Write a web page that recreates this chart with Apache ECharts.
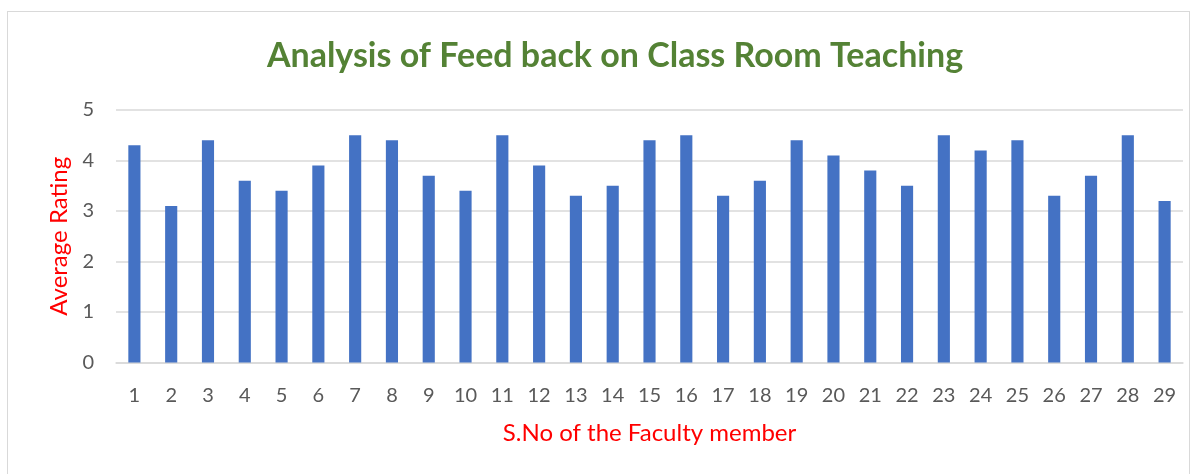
<!DOCTYPE html>
<html>
<head>
<meta charset="utf-8">
<script src="https://cdn.jsdelivr.net/npm/echarts@6/dist/echarts.min.js"></script>
<style>
  html, body { margin: 0; padding: 0; background: #fff; }
  #frame { position: absolute; left: 7px; top: 11px; width: 1183px; height: 470px; border: 1px solid #d9d9d9; box-sizing: border-box; }
  #chart { position: absolute; left: 0; top: 0; width: 1196px; height: 474px; }
</style>
</head>
<body>
<div id="frame"></div>
<div id="chart"></div>
<script>
// S.No of faculty members
const facultyNo = ['1','2','3','4','5','6','7','8','9','10','11','12','13','14','15','16','17','18','19','20','21','22','23','24','25','26','27','28','29']
// average rating per faculty member
const avgRating = [4.3, 3.1, 4.4, 3.6, 3.4, 3.9, 4.5, 4.4, 3.7, 3.4, 4.5, 3.9, 3.3, 3.5, 4.4, 4.5, 3.3, 3.6, 4.4, 4.1, 3.8, 3.5, 4.5, 4.2, 4.4, 3.3, 3.7, 4.5, 3.2]
const yTicks = [0, 1, 2, 3, 4, 5]

const chart = echarts.init(document.getElementById('chart'))
const font = 'Lato, "Open Sans", sans-serif'
chart.setOption({
  animation: false,
  title: {
    text: 'Analysis of Feed back on Class Room Teaching',
    left: 610, top: 34, textAlign: 'center',
    textStyle: { color: '#548235', fontSize: 34, fontWeight: 'bold', fontFamily: font }
  },
  grid: { left: 116, right: 13, top: 110, bottom: 111.5 },
  xAxis: {
    type: 'category', data: facultyNo,
    name: 'S.No of the Faculty member', nameLocation: 'middle', nameGap: 59,
    nameTextStyle: { color: '#ff0000', fontSize: 24, fontFamily: font },
    axisLine: { lineStyle: { color: '#d9d9d9', width: 1.5 } },
    axisTick: { show: false },
    axisLabel: { color: '#595959', fontSize: 20, margin: 23, fontFamily: font }
  },
  yAxis: {
    type: 'value', min: yTicks[0], max: yTicks[yTicks.length - 1], interval: 1,
    name: 'Average Rating', nameLocation: 'middle', nameGap: 44,
    nameTextStyle: { color: '#ff0000', fontSize: 24, fontFamily: font },
    axisLine: { show: false }, axisTick: { show: false },
    axisLabel: { color: '#595959', fontSize: 20, margin: 22, fontFamily: font },
    splitLine: { lineStyle: { color: '#d9d9d9', width: 1.5 } }
  },
  series: [{
    type: 'bar', data: avgRating, barWidth: '33%',
    itemStyle: { color: '#4472c4' }
  }]
})
</script>
</body>
</html>
